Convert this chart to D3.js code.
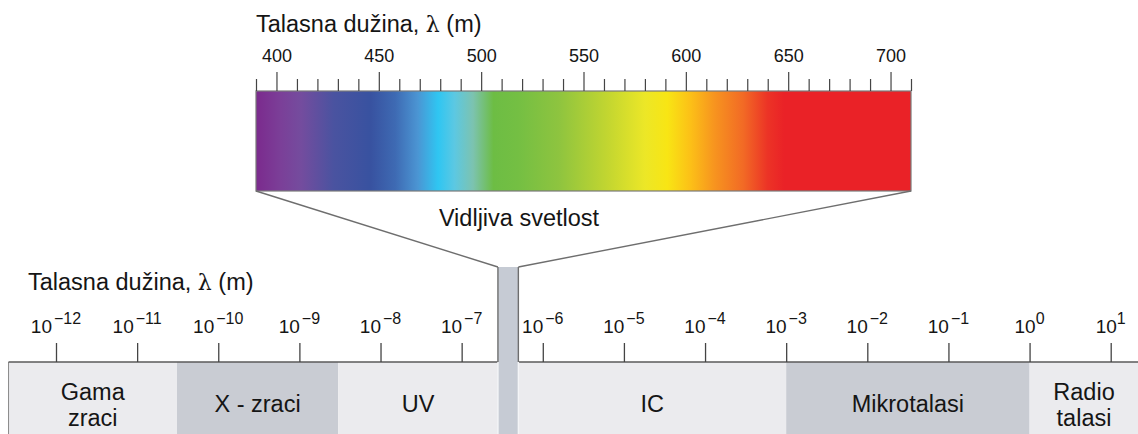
<!DOCTYPE html>
<html>
<head>
<meta charset="utf-8">
<script src="https://cdn.jsdelivr.net/npm/d3@7"></script>
<style>
  html, body { margin: 0; padding: 0; background: #fff; }
  svg { display: block; }
  text { font-family: "Liberation Sans", Arial, sans-serif; fill: #151515; }
</style>
</head>
<body>
<svg id="chart" width="1138" height="434"></svg>
<script>
// Visible spectrum (nm)
const visDomain = [390, 710];
const visMajorTicks = [400, 450, 500, 550, 600, 650, 700];
const visMinorTicks = d3.range(390, 711, 10);
// Colour stops along the visible spectrum: wavelength (nm) and colour
const spectrumNm = [390, 402, 412, 428, 446, 458, 469, 479, 487, 496, 506, 518, 538, 562, 580, 591, 602, 614, 628, 640, 648, 710];
const spectrumColors = ["#7b2a8d", "#7b3f98", "#744c9e", "#4a53a0", "#3852a0", "#3e6ab3", "#4b95d3", "#2fc6f2", "#5cc8e2", "#7cc3b0", "#6dbd44", "#74bf43", "#8ec43f", "#c3d630", "#ece727", "#f8e514", "#fcc117", "#f7941f", "#f26a25", "#ec3326", "#ea2227", "#ea2227"];

// Electromagnetic spectrum (m), log scale
const emExponents = [-12, -11, -10, -9, -8, -7, -6, -5, -4, -3, -2, -1, 0, 1];
const emBandNames = [["Gama", "zraci"], ["X - zraci"], ["UV"], [], ["IC"], ["Mikrotalasi"], ["Radio", "talasi"]];
const emBandStart = [2.6e-13, 3.1e-11, 3.0e-9, 2.8e-7, 5.0e-7, 1e-3, 1];
const emBandEnd   = [3.1e-11, 3.0e-9, 2.8e-7, 5.0e-7, 1e-3, 1, 22];
const emBandShade = ["light", "dark", "light", "visible", "light", "dark", "light"];

const axisTitle = "Talasna dužina, ";
const visibleLabel = "Vidljiva svetlost";

const svg = d3.select("#chart");
const W = 1138, H = 434;

// ---- layout
const specTop = 91, specBottom = 191;
const funnelBottom = 267;
const emAxisY = 362;

const xVis = d3.scaleLinear().domain(visDomain).range([256, 911]);
const xEm = d3.scaleLog().domain([1e-12, 10]).range([56, 1110.7]);

const shadeFill = { light: "#ebebee", dark: "#c9ccd3", visible: "#c6cbd4" };

// ---- spectrum gradient
const defs = svg.append("defs");
const grad = defs.append("linearGradient")
  .attr("id", "spectrum")
  .attr("gradientUnits", "userSpaceOnUse")
  .attr("x1", xVis(visDomain[0])).attr("x2", xVis(visDomain[1]))
  .attr("y1", 0).attr("y2", 0);
spectrumNm.forEach((nm, i) => {
  grad.append("stop")
    .attr("offset", (nm - visDomain[0]) / (visDomain[1] - visDomain[0]))
    .attr("stop-color", spectrumColors[i]);
});

svg.append("rect")
  .attr("x", xVis(visDomain[0]))
  .attr("y", specTop)
  .attr("width", xVis(visDomain[1]) - xVis(visDomain[0]))
  .attr("height", specBottom - specTop)
  .attr("fill", "url(#spectrum)")
  .attr("stroke", "#7a7a7a")
  .attr("stroke-width", 1.2);

// ---- visible spectrum axis (minor + major ticks)
const minorAxis = d3.axisTop(xVis)
  .tickValues(visMinorTicks.filter(v => !visMajorTicks.includes(v)))
  .tickSize(12).tickFormat("");
const majorAxis = d3.axisTop(xVis)
  .tickValues(visMajorTicks)
  .tickSize(19).tickPadding(10).tickFormat(d3.format("d"));

const gMinor = svg.append("g").attr("transform", `translate(0,${specTop})`).call(minorAxis);
const gMajor = svg.append("g").attr("transform", `translate(0,${specTop})`).call(majorAxis);
[gMinor, gMajor].forEach(g => {
  g.select(".domain").remove();
  g.selectAll(".tick line").attr("stroke", "#444").attr("stroke-width", 1.2);
});
gMajor.selectAll(".tick text")
  .attr("font-size", 18)
  .attr("font-family", "Liberation Sans, Arial, sans-serif")
  .attr("fill", "#151515");

// axis title, used above the spectrum and above the log scale
function drawTitle(x, y) {
  const t = svg.append("text")
    .attr("x", x)
    .attr("y", y)
    .attr("font-size", 23.5);
  t.append("tspan").text(axisTitle);
  t.append("tspan").attr("font-family", "DejaVu Serif, serif").attr("font-size", 22).text("λ");
  t.append("tspan").text(" (m)");
}
drawTitle(xVis(visDomain[0]), 32);

// ---- funnel from spectrum to the visible band
const visIdx = emBandShade.indexOf("visible");
const visX0 = xEm(emBandStart[visIdx]), visX1 = xEm(emBandEnd[visIdx]);

svg.append("line")
  .attr("x1", xVis(visDomain[0])).attr("y1", specBottom)
  .attr("x2", visX0).attr("y2", funnelBottom)
  .attr("stroke", "#6e6e6e").attr("stroke-width", 1.4);
svg.append("line")
  .attr("x1", xVis(visDomain[1])).attr("y1", specBottom)
  .attr("x2", visX1).attr("y2", funnelBottom)
  .attr("stroke", "#6e6e6e").attr("stroke-width", 1.4);

svg.append("text")
  .attr("x", 519)
  .attr("y", 226)
  .attr("text-anchor", "middle")
  .attr("font-size", 23.5)
  .text(visibleLabel);

// ---- electromagnetic bands
const bands = svg.append("g");
emBandStart.forEach((s, i) => {
  const x0 = xEm(s), x1 = xEm(emBandEnd[i]);
  if (emBandShade[i] === "visible") return;
  bands.append("rect")
    .attr("x", x0).attr("y", emAxisY)
    .attr("width", x1 - x0).attr("height", H - emAxisY)
    .attr("fill", shadeFill[emBandShade[i]]);
  const lines = emBandNames[i];
  const cx = (x0 + x1) / 2;
  const baseY = lines.length === 2 ? 400 : 412;
  lines.forEach((ln, j) => {
    bands.append("text")
      .attr("x", cx).attr("y", baseY + j * 26)
      .attr("text-anchor", "middle")
      .attr("font-size", 23.5)
      .text(ln);
  });
});
// left edge of the band strip
svg.append("line")
  .attr("x1", xEm(emBandStart[0])).attr("x2", xEm(emBandStart[0]))
  .attr("y1", emAxisY).attr("y2", H)
  .attr("stroke", "#8a8a8a").attr("stroke-width", 1);

// axis line across the band strip
svg.append("line")
  .attr("x1", xEm(emBandStart[0])).attr("x2", W)
  .attr("y1", emAxisY).attr("y2", emAxisY)
  .attr("stroke", "#5a5a5a").attr("stroke-width", 1.5);

// visible-light column
svg.append("rect")
  .attr("x", visX0).attr("y", funnelBottom)
  .attr("width", visX1 - visX0).attr("height", H - funnelBottom)
  .attr("fill", shadeFill.visible);
[visX0, visX1].forEach(x => {
  svg.append("line")
    .attr("x1", x).attr("x2", x)
    .attr("y1", funnelBottom).attr("y2", emAxisY)
    .attr("stroke", "#6e6e6e").attr("stroke-width", 1.4);
  svg.append("line")
    .attr("x1", x).attr("x2", x)
    .attr("y1", emAxisY).attr("y2", H)
    .attr("stroke", "#f4f5f7").attr("stroke-width", 1.4);
});

// ---- log axis ticks and labels
const emAxis = d3.axisTop(xEm)
  .tickValues(emExponents.map(e => Math.pow(10, e)))
  .tickSize(19).tickFormat("");
const gEm = svg.append("g").attr("transform", `translate(0,${emAxisY})`).call(emAxis);
gEm.select(".domain").remove();
gEm.selectAll(".tick line").attr("stroke", "#444").attr("stroke-width", 1.3);

const labels = svg.append("g");
emExponents.forEach(e => {
  const t = labels.append("text")
    .attr("x", xEm(Math.pow(10, e)))
    .attr("y", 333)
    .attr("text-anchor", "middle")
    .attr("font-size", 19);
  t.append("tspan").text("10");
  t.append("tspan")
    .attr("font-size", 16)
    .attr("dy", -9.5)
    .attr("dx", e < 0 ? 2 : 0)
    .text(e < 0 ? "\u2212" + Math.abs(e) : String(e));
});

// bottom title
drawTitle(28, 290);
</script>
</body>
</html>
